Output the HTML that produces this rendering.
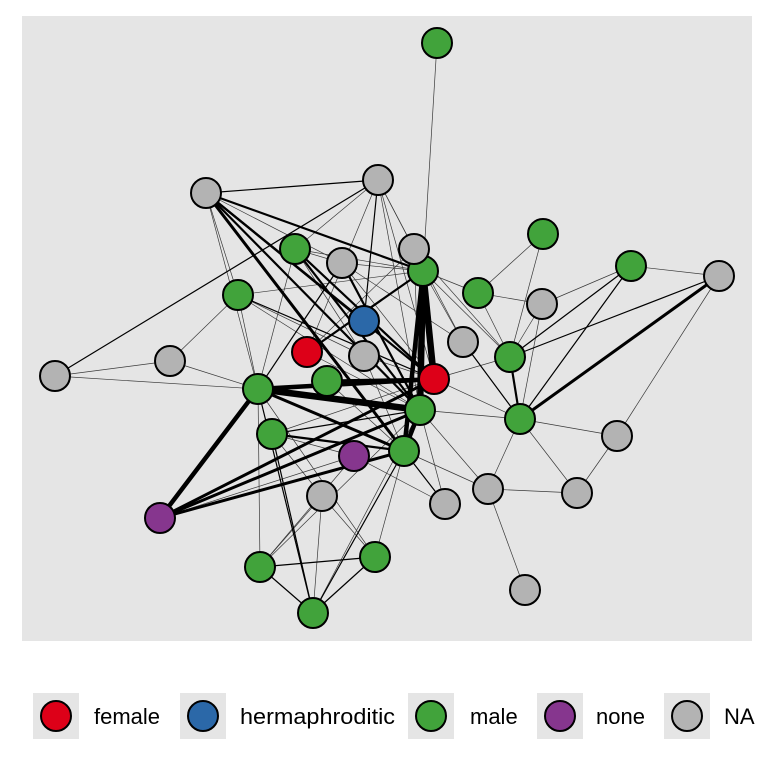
<!DOCTYPE html>
<html><head><meta charset="utf-8"><style>html,body{margin:0;padding:0;background:#fff}svg{display:block}</style></head>
<body>
<svg width="768" height="768" viewBox="0 0 768 768" xmlns="http://www.w3.org/2000/svg" font-family="Liberation Sans, sans-serif">
<rect x="0" y="0" width="768" height="768" fill="#fff"/>
<rect x="22" y="16" width="730" height="625" fill="#e5e5e5"/>
<g stroke="#000" fill="none" stroke-linecap="round">
<g stroke-width="0.7" opacity="0.75">
<line x1="437" y1="43" x2="423" y2="271"/>
<line x1="206" y1="193" x2="238" y2="295"/>
<line x1="206" y1="193" x2="258" y2="389"/>
<line x1="206" y1="193" x2="342" y2="263"/>
<line x1="378" y1="180" x2="295" y2="249"/>
<line x1="378" y1="180" x2="307" y2="352"/>
<line x1="378" y1="180" x2="420" y2="410"/>
<line x1="378" y1="180" x2="434" y2="379"/>
<line x1="378" y1="180" x2="463" y2="342"/>
<line x1="378" y1="180" x2="414" y2="249"/>
<line x1="295" y1="249" x2="342" y2="263"/>
<line x1="295" y1="249" x2="423" y2="271"/>
<line x1="295" y1="249" x2="364" y2="356"/>
<line x1="295" y1="249" x2="258" y2="389"/>
<line x1="342" y1="263" x2="423" y2="271"/>
<line x1="342" y1="263" x2="463" y2="342"/>
<line x1="342" y1="263" x2="434" y2="379"/>
<line x1="238" y1="295" x2="423" y2="271"/>
<line x1="238" y1="295" x2="364" y2="356"/>
<line x1="238" y1="295" x2="420" y2="410"/>
<line x1="238" y1="295" x2="170" y2="361"/>
<line x1="238" y1="295" x2="258" y2="389"/>
<line x1="55" y1="376" x2="170" y2="361"/>
<line x1="55" y1="376" x2="258" y2="389"/>
<line x1="170" y1="361" x2="258" y2="389"/>
<line x1="423" y1="271" x2="478" y2="293"/>
<line x1="423" y1="271" x2="510" y2="357"/>
<line x1="423" y1="271" x2="463" y2="342"/>
<line x1="414" y1="249" x2="510" y2="357"/>
<line x1="478" y1="293" x2="543" y2="234"/>
<line x1="478" y1="293" x2="542" y2="304"/>
<line x1="478" y1="293" x2="510" y2="357"/>
<line x1="543" y1="234" x2="510" y2="357"/>
<line x1="631" y1="266" x2="719" y2="276"/>
<line x1="631" y1="266" x2="542" y2="304"/>
<line x1="542" y1="304" x2="510" y2="357"/>
<line x1="542" y1="304" x2="520" y2="419"/>
<line x1="719" y1="276" x2="617" y2="436"/>
<line x1="463" y1="342" x2="520" y2="419"/>
<line x1="434" y1="379" x2="510" y2="357"/>
<line x1="434" y1="379" x2="520" y2="419"/>
<line x1="420" y1="410" x2="520" y2="419"/>
<line x1="420" y1="410" x2="488" y2="489"/>
<line x1="420" y1="410" x2="445" y2="504"/>
<line x1="354" y1="456" x2="445" y2="504"/>
<line x1="520" y1="419" x2="617" y2="436"/>
<line x1="520" y1="419" x2="488" y2="489"/>
<line x1="520" y1="419" x2="577" y2="493"/>
<line x1="617" y1="436" x2="577" y2="493"/>
<line x1="488" y1="489" x2="577" y2="493"/>
<line x1="488" y1="489" x2="525" y2="590"/>
<line x1="404" y1="451" x2="488" y2="489"/>
<line x1="258" y1="389" x2="260" y2="567"/>
<line x1="258" y1="389" x2="375" y2="557"/>
<line x1="272" y1="434" x2="322" y2="496"/>
<line x1="322" y1="496" x2="260" y2="567"/>
<line x1="322" y1="496" x2="313" y2="613"/>
<line x1="322" y1="496" x2="375" y2="557"/>
<line x1="354" y1="456" x2="260" y2="567"/>
<line x1="404" y1="451" x2="375" y2="557"/>
<line x1="420" y1="410" x2="313" y2="613"/>
<line x1="420" y1="410" x2="260" y2="567"/>
<line x1="354" y1="456" x2="160" y2="518"/>
<line x1="364" y1="356" x2="434" y2="379"/>
<line x1="364" y1="356" x2="404" y2="451"/>
<line x1="307" y1="352" x2="420" y2="410"/>
<line x1="327" y1="381" x2="404" y2="451"/>
<line x1="272" y1="434" x2="434" y2="379"/>
<line x1="272" y1="434" x2="354" y2="456"/>
<line x1="414" y1="249" x2="307" y2="352"/>
<line x1="414" y1="249" x2="420" y2="410"/>
</g>
<g stroke-width="1.2">
<line x1="206" y1="193" x2="378" y2="180"/>
<line x1="55" y1="376" x2="378" y2="180"/>
<line x1="378" y1="180" x2="364" y2="321"/>
<line x1="719" y1="276" x2="510" y2="357"/>
<line x1="631" y1="266" x2="510" y2="357"/>
<line x1="631" y1="266" x2="520" y2="419"/>
<line x1="520" y1="419" x2="463" y2="342"/>
<line x1="260" y1="567" x2="375" y2="557"/>
<line x1="260" y1="567" x2="313" y2="613"/>
<line x1="375" y1="557" x2="313" y2="613"/>
<line x1="258" y1="389" x2="404" y2="451"/>
<line x1="272" y1="434" x2="420" y2="410"/>
<line x1="258" y1="389" x2="313" y2="613"/>
<line x1="272" y1="434" x2="313" y2="613"/>
<line x1="404" y1="451" x2="313" y2="613"/>
<line x1="404" y1="451" x2="445" y2="504"/>
<line x1="258" y1="389" x2="342" y2="263"/>
<line x1="238" y1="295" x2="434" y2="379"/>
</g>
<g stroke-width="2.2">
<line x1="206" y1="193" x2="423" y2="271"/>
<line x1="206" y1="193" x2="434" y2="379"/>
<line x1="206" y1="193" x2="364" y2="321"/>
<line x1="206" y1="193" x2="420" y2="410"/>
<line x1="295" y1="249" x2="420" y2="410"/>
<line x1="342" y1="263" x2="420" y2="410"/>
<line x1="423" y1="271" x2="307" y2="352"/>
<line x1="510" y1="357" x2="520" y2="419"/>
<line x1="295" y1="249" x2="434" y2="379"/>
<line x1="258" y1="389" x2="434" y2="410"/>
<line x1="272" y1="434" x2="404" y2="451"/>
</g>
<g stroke-width="3">
<line x1="719" y1="276" x2="520" y2="419"/>
<line x1="206" y1="193" x2="404" y2="451"/>
<line x1="327" y1="381" x2="434" y2="379"/>
<line x1="160" y1="518" x2="404" y2="451"/>
<line x1="160" y1="518" x2="434" y2="379"/>
<line x1="160" y1="518" x2="420" y2="410"/>
<line x1="258" y1="389" x2="404" y2="451"/>
</g>
<g stroke-width="4.5">
<line x1="160" y1="518" x2="258" y2="389"/>
<line x1="258" y1="389" x2="434" y2="379"/>
<line x1="423" y1="271" x2="404" y2="451"/>
<line x1="420" y1="410" x2="404" y2="451"/>
</g>
<g stroke-width="6.5">
<line x1="258" y1="389" x2="420" y2="410"/>
<line x1="423" y1="271" x2="420" y2="410"/>
<line x1="423" y1="271" x2="434" y2="379"/>
</g>
</g>
<g stroke="#000" stroke-width="2">
<circle cx="437" cy="43" r="15" fill="#41a33b"/>
<circle cx="206" cy="193" r="15" fill="#b3b3b3"/>
<circle cx="378" cy="180" r="15" fill="#b3b3b3"/>
<circle cx="543" cy="234" r="15" fill="#41a33b"/>
<circle cx="295" cy="249" r="15" fill="#41a33b"/>
<circle cx="342" cy="263" r="15" fill="#b3b3b3"/>
<circle cx="423" cy="271" r="15" fill="#41a33b"/>
<circle cx="414" cy="249" r="15" fill="#b3b3b3"/>
<circle cx="631" cy="266" r="15" fill="#41a33b"/>
<circle cx="719" cy="276" r="15" fill="#b3b3b3"/>
<circle cx="478" cy="293" r="15" fill="#41a33b"/>
<circle cx="238" cy="295" r="15" fill="#41a33b"/>
<circle cx="542" cy="304" r="15" fill="#b3b3b3"/>
<circle cx="364" cy="321" r="15" fill="#2b68a8"/>
<circle cx="463" cy="342" r="15" fill="#b3b3b3"/>
<circle cx="307" cy="352" r="15" fill="#dd0018"/>
<circle cx="364" cy="356" r="15" fill="#b3b3b3"/>
<circle cx="510" cy="357" r="15" fill="#41a33b"/>
<circle cx="170" cy="361" r="15" fill="#b3b3b3"/>
<circle cx="55" cy="376" r="15" fill="#b3b3b3"/>
<circle cx="434" cy="379" r="15" fill="#dd0018"/>
<circle cx="327" cy="381" r="15" fill="#41a33b"/>
<circle cx="258" cy="389" r="15" fill="#41a33b"/>
<circle cx="420" cy="410" r="15" fill="#41a33b"/>
<circle cx="520" cy="419" r="15" fill="#41a33b"/>
<circle cx="617" cy="436" r="15" fill="#b3b3b3"/>
<circle cx="272" cy="434" r="15" fill="#41a33b"/>
<circle cx="354" cy="456" r="15" fill="#86368e"/>
<circle cx="404" cy="451" r="15" fill="#41a33b"/>
<circle cx="488" cy="489" r="15" fill="#b3b3b3"/>
<circle cx="577" cy="493" r="15" fill="#b3b3b3"/>
<circle cx="445" cy="504" r="15" fill="#b3b3b3"/>
<circle cx="322" cy="496" r="15" fill="#b3b3b3"/>
<circle cx="160" cy="518" r="15" fill="#86368e"/>
<circle cx="375" cy="557" r="15" fill="#41a33b"/>
<circle cx="260" cy="567" r="15" fill="#41a33b"/>
<circle cx="525" cy="590" r="15" fill="#b3b3b3"/>
<circle cx="313" cy="613" r="15" fill="#41a33b"/>
</g>
<rect x="33" y="693" width="46" height="46" fill="#e5e5e5"/>
<rect x="180" y="693" width="46" height="46" fill="#e5e5e5"/>
<rect x="408" y="693" width="46" height="46" fill="#e5e5e5"/>
<rect x="537" y="693" width="46" height="46" fill="#e5e5e5"/>
<rect x="664" y="693" width="46" height="46" fill="#e5e5e5"/>
<g stroke="#000" stroke-width="2">
<circle cx="56" cy="716" r="15" fill="#dd0018"/>
<circle cx="203" cy="716" r="15" fill="#2b68a8"/>
<circle cx="431" cy="716" r="15" fill="#41a33b"/>
<circle cx="560" cy="716" r="15" fill="#86368e"/>
<circle cx="687" cy="716" r="15" fill="#b3b3b3"/>
</g>
<g font-size="22" fill="#000">
<text x="94" y="724">female</text>
<text x="240" y="724" textLength="155" lengthAdjust="spacingAndGlyphs">hermaphroditic</text>
<text x="470" y="724">male</text>
<text x="596" y="724">none</text>
<text x="724" y="724">NA</text>
</g>
</svg>
</body></html>
